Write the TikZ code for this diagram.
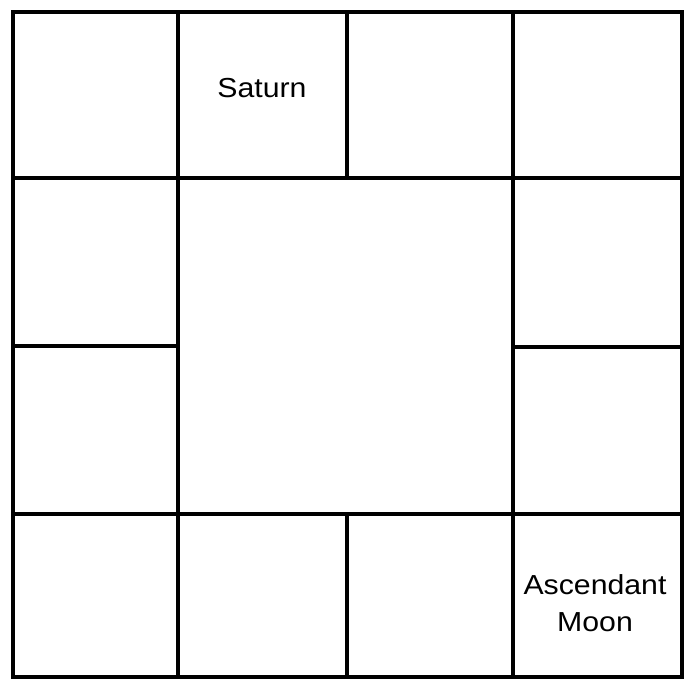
\documentclass[tikz,border=0pt]{standalone}
\usepackage{fontspec}
\newfontfamily\lab[FakeStretch=1.1]{Liberation Sans}
\begin{document}
\begin{tikzpicture}[x=1pt,y=-1pt,
  grid/.style={line width=3.3pt,black,line cap=rect},
  lbl/.style={font=\lab\fontsize{27.5}{37}\selectfont,align=center,inner sep=0pt}]
\useasboundingbox (0,0) rectangle (692,693);
\fill[white] (0,0) rectangle (692,693);
\draw[grid] (13,12) rectangle (682,677);
\draw[grid] (13,178) -- (682,178);
\draw[grid] (13,514) -- (682,514);
\draw[grid] (13,346) -- (178,346);
\draw[grid] (513,347) -- (682,347);
\draw[grid] (178,12) -- (178,677);
\draw[grid] (513,12) -- (513,677);
\draw[grid] (347,12) -- (347,178);
\draw[grid] (347,514) -- (347,677);
\node[lbl] (saturn) at (262,88) {Saturn};
\node[lbl] (asc) at (595,603) {Ascendant\\Moon};
\end{tikzpicture}
\end{document}
